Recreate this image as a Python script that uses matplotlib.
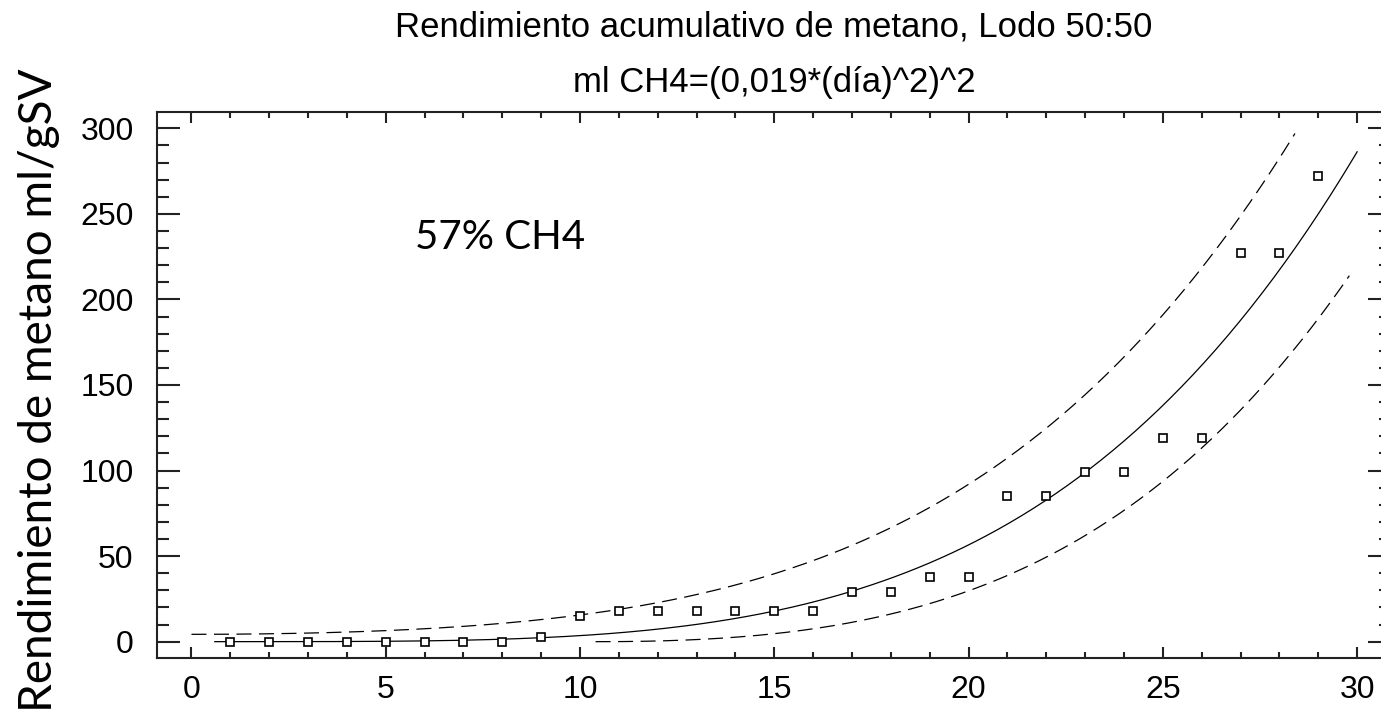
import numpy as np
import matplotlib
matplotlib.use("Agg")
import matplotlib.pyplot as plt
from matplotlib.ticker import MultipleLocator

# Rendimiento acumulado medido por día
dias = [1, 2, 3, 4, 5, 6, 7, 8, 9, 10, 11, 12, 13, 14, 15,
        16, 17, 18, 19, 20, 21, 22, 23, 24, 25, 26, 27, 28, 29]
metano = [0, 0, 0, 0, 0, 0, 0, 0, 3, 15, 18, 18, 18, 18, 18,
          18, 29, 29, 38, 38, 85, 85, 99, 99, 119, 119, 227, 227, 272]

# Modelo ajustado: sqrt(ml CH4) = b * dia^2, banda de predicción en escala raíz
coef_b = 0.0188
semi_banda = 2.07

x_ajuste = np.linspace(0.6, 30.0, 300)
x_sup = np.linspace(0.0, 28.4, 300)
x_inf = np.linspace(10.4, 29.8, 300)

y_ajuste = (coef_b * x_ajuste**2) ** 2
y_sup = (coef_b * x_sup**2 + semi_banda) ** 2
y_inf = np.clip(coef_b * x_inf**2 - semi_banda, 0, None) ** 2

fig = plt.figure(figsize=(13.81, 7.14), dpi=100)
ax = fig.add_axes([0.1139, 0.0789, 0.8933, 0.7639])

ax.plot(x_ajuste, y_ajuste, color="black", lw=0.9)
ax.plot(x_sup, y_sup, color="black", lw=0.9, dashes=(12, 6))
ax.plot(x_inf, y_inf, color="black", lw=0.9, dashes=(12, 6))
ax.plot(dias, metano, ls="none", marker="s", ms=6, mfc="white",
        mec="black", mew=1.2)

ax.set_xlim(-0.88, 30.87)
ax.set_ylim(-9.35, 309.4)
ax.xaxis.set_major_locator(MultipleLocator(5))
ax.xaxis.set_minor_locator(MultipleLocator(1))
ax.yaxis.set_major_locator(MultipleLocator(50))
ax.yaxis.set_minor_locator(MultipleLocator(10))

ax.tick_params(axis="both", which="both", direction="in",
               top=True, right=True, width=1.5, colors="#222222")
ax.tick_params(axis="x", which="major", length=8, pad=12.5)
ax.tick_params(axis="x", which="minor", length=4)
ax.tick_params(axis="y", which="major", length=16.3, pad=17)
ax.tick_params(axis="y", which="minor", length=8.4)
for lab in ax.get_xticklabels() + ax.get_yticklabels():
    lab.set_fontfamily("Liberation Sans")
    lab.set_fontsize(23)
    lab.set_color("black")
for sp in ax.spines.values():
    sp.set_linewidth(1.5)
    sp.set_color("#222222")

titulo = "Rendimiento acumulativo de metano, Lodo 50:50"
ecuacion = "ml CH4=({}*(día)^2)^2".format(f"{coef_b:.3f}".replace(".", ","))
fig.text(0.56, 0.962, titulo, ha="center", va="center",
         fontfamily="Liberation Sans", fontsize=25)
fig.text(0.561, 0.885, ecuacion, ha="center", va="center",
         fontfamily="Liberation Sans", fontsize=25)

fig.text(0.028, 0.454, "Rendimiento de metano ml/gSV", rotation=90,
         ha="center", va="center", fontfamily="Lato", fontsize=33)
ax.text(5.75, 236, "57% CH4", ha="left", va="center",
        fontfamily="Lato", fontsize=29)

fig.savefig("out.png", dpi=100)
